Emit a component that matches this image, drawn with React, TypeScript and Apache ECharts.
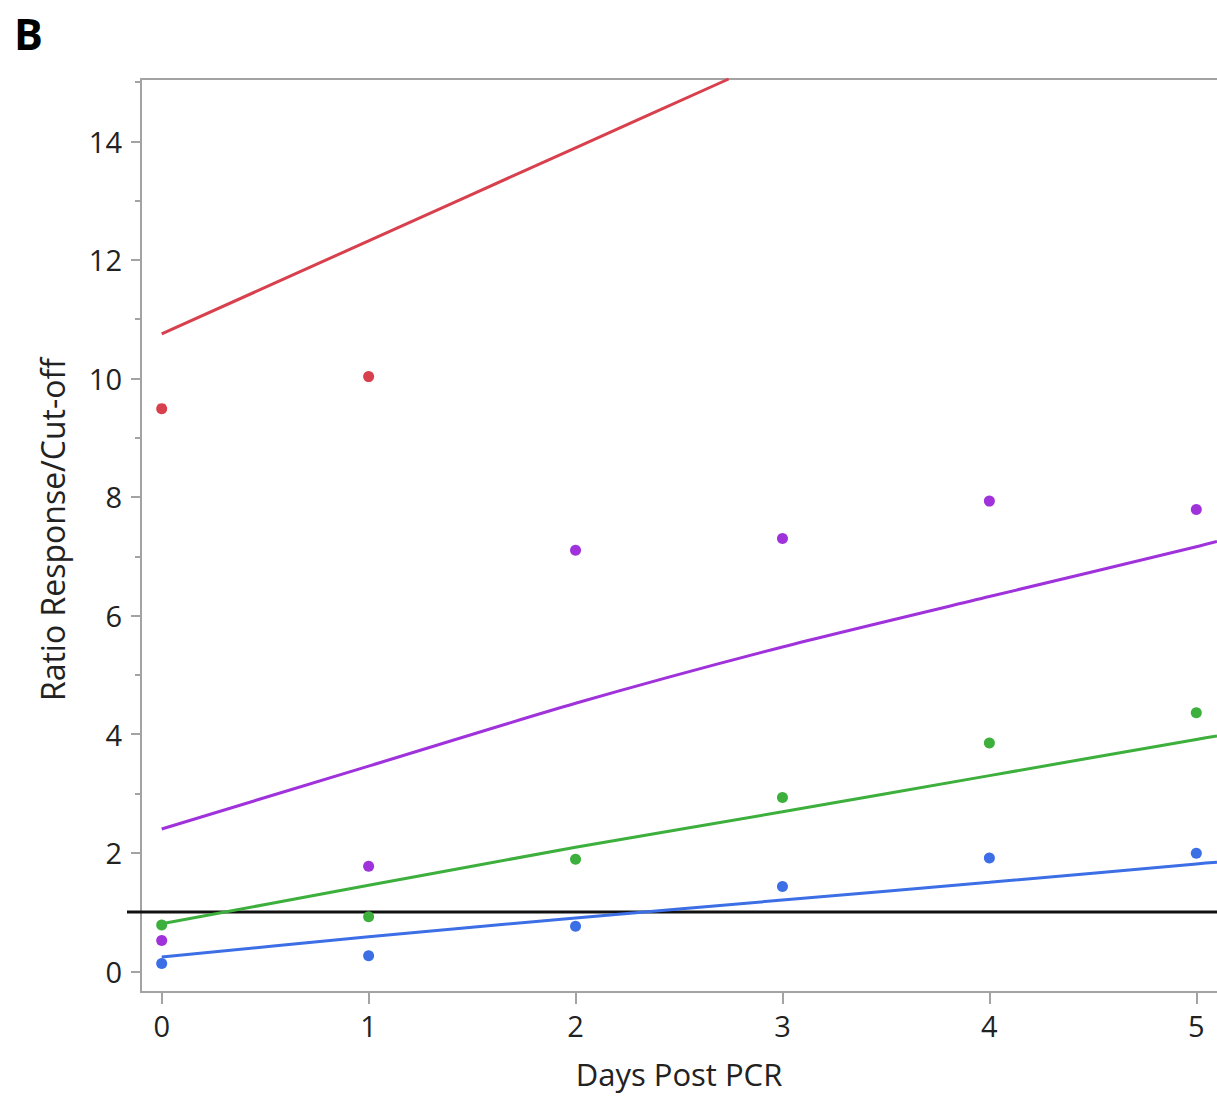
import React, { useEffect, useRef } from "react";
import * as echarts from "echarts";

const xTicks = [0, 1, 2, 3, 4, 5];
const yMajorTicks = [0, 2, 4, 6, 8, 10, 12, 14];
const yMinorTicks = [1, 3, 5, 7, 9, 11, 13, 15];

// observed points
const redX = [0, 1];
const redY = [9.49, 10.03];
const days = [0, 1, 2, 3, 4, 5];
const purpleY = [0.52, 1.77, 7.1, 7.3, 7.93, 7.79];
const greenY = [0.78, 0.92, 1.89, 2.93, 3.85, 4.36];
const blueY = [0.13, 0.26, 0.76, 1.43, 1.91, 1.99];

// fitted lines
const redFitX = [0, 1, 2, 2.74];
const redFitY = [10.75, 12.32, 13.89, 15.05];
const fitX = [0, 1, 2, 3, 4, 5, 5.1];
const purpleFitY = [2.4, 3.46, 4.52, 5.47, 6.32, 7.16, 7.25];
const greenFitY = [0.8, 1.45, 2.09, 2.69, 3.3, 3.91, 3.97];
const blueFitY = [0.24, 0.58, 0.9, 1.2, 1.5, 1.81, 1.84];

const cutoff = 1;

const RED = "#D9404D";
const PURPLE = "#A032DC";
const GREEN = "#3CAF3C";
const BLUE = "#3C6EE6";
const FONT = "'Open Sans', 'Noto Sans', sans-serif";

const zip = (xs: number[], ys: number[]) => xs.map((x, i) => [x, ys[i]]);

export default function App() {
  const ref = useRef<HTMLDivElement>(null);
  useEffect(() => {
    if (!ref.current) return;
    const chart = echarts.init(ref.current, undefined, { renderer: "svg" });
    const axisGray = "#a3a3a3";
    const scatter = (data: number[][], color: string) => ({
      type: "scatter",
      data,
      symbolSize: 11,
      itemStyle: { color, opacity: 1 },
      z: 4,
    });
    const line = (data: number[][], color: string) => ({
      type: "line",
      data,
      showSymbol: false,
      symbol: "none",
      smooth: 0.25,
      lineStyle: { color, width: 3 },
      z: 3,
      clip: true,
    });
    chart.setOption({
      animation: false,
      backgroundColor: "#ffffff",
      grid: { left: 141, top: 79, right: 0, bottom: 104, containLabel: false },
      xAxis: [
        {
          type: "value",
          min: -0.1,
          max: 5.1,
          position: "bottom",
          axisLine: { show: true, onZero: false, lineStyle: { color: axisGray, width: 2 } },
          axisTick: { show: true, length: 12, customValues: xTicks, lineStyle: { color: axisGray, width: 2 } },
          axisLabel: {
            show: true,
            customValues: xTicks,
            fontSize: 29,
            fontFamily: FONT,
            color: "#222222",
            margin: 19,
          },
          splitLine: { show: false },
          name: "Days Post PCR",
          nameLocation: "middle",
          nameGap: 66,
          nameTextStyle: { fontSize: 31, fontFamily: FONT, color: "#222222" },
        },
        {
          type: "value",
          min: -0.1,
          max: 5.1,
          position: "top",
          axisLine: { show: true, onZero: false, lineStyle: { color: axisGray, width: 2 } },
          axisTick: { show: false },
          axisLabel: { show: false },
          splitLine: { show: false },
        },
      ],
      yAxis: [
        {
          type: "value",
          min: -0.35,
          max: 15.05,
          position: "left",
          axisLine: { show: true, onZero: false, lineStyle: { color: axisGray, width: 2 } },
          axisTick: { show: true, length: 10, customValues: yMajorTicks, lineStyle: { color: axisGray, width: 2 } },
          axisLabel: {
            show: true,
            customValues: yMajorTicks,
            fontSize: 29,
            fontFamily: FONT,
            color: "#222222",
            margin: 19,
          },
          splitLine: { show: false },
          name: "Ratio Response/Cut-off",
          nameLocation: "middle",
          nameGap: 73,
          nameRotate: 90,
          nameTextStyle: { fontSize: 32, fontFamily: FONT, color: "#222222", padding: [0, 0, 0, 12] },
        },
        {
          type: "value",
          min: -0.35,
          max: 15.05,
          position: "left",
          axisLine: { show: false, onZero: false },
          axisTick: { show: true, length: 6, customValues: yMinorTicks, lineStyle: { color: axisGray, width: 2 } },
          axisLabel: { show: false },
          splitLine: { show: false },
        },
      ],
      series: [
        line(zip(redFitX, redFitY), RED),
        line(zip(fitX, purpleFitY), PURPLE),
        line(zip(fitX, greenFitY), GREEN),
        line(zip(fitX, blueFitY), BLUE),
        scatter(zip(redX, redY), RED),
        scatter(zip(days, purpleY), PURPLE),
        scatter(zip(days, greenY), GREEN),
        scatter(zip(days, blueY), BLUE),
      ],
    });
    const py = chart.convertToPixel({ gridIndex: 0 }, [0, cutoff]) as number[];
    const pLeft = chart.convertToPixel({ gridIndex: 0 }, [-0.1, cutoff]) as number[];
    chart.setOption({
      graphic: [
        {
          type: "line",
          z: 1,
          shape: { x1: pLeft[0] - 14, y1: py[1], x2: 1217, y2: py[1] },
          style: { stroke: "#111111", lineWidth: 3 },
        },
        {
          type: "text",
          left: 14,
          top: 12,
          style: { text: "B", font: `bold 43px ${FONT}`, fill: "#000000" },
        },
      ],
    });
    return () => chart.dispose();
  }, []);
  return (
    <div
      ref={ref}
      style={{ position: "absolute", left: 0, top: 0, width: 1217, height: 1096, background: "#fff" }}
    />
  );
}
